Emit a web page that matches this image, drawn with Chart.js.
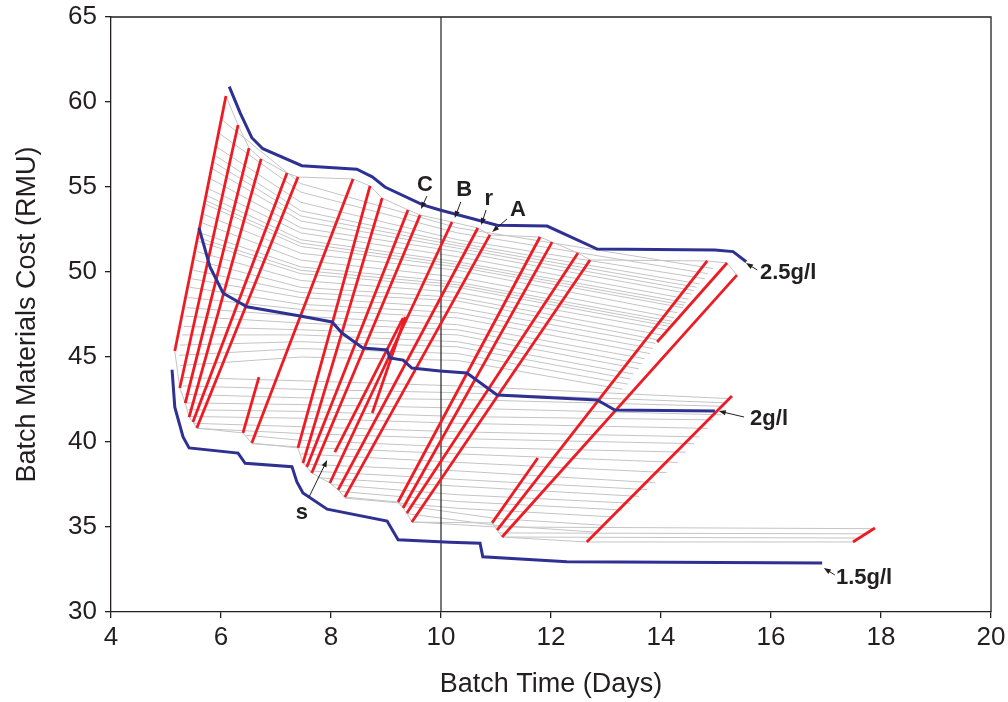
<!DOCTYPE html>
<html>
<head>
<meta charset="utf-8">
<script src="https://cdn.jsdelivr.net/npm/chart.js@4.4.1/dist/chart.umd.min.js"></script>
<style>
  body { margin: 0; background: #fff; }
</style>
</head>
<body>
<canvas id="chart" width="1008" height="702"></canvas>
<script>
// tick labels
const xTicks = [4, 6, 8, 10, 12, 14, 16, 18, 20];
const yTicks = [30, 35, 40, 45, 50, 55, 60, 65];

// blue optimal curves (2.5 g/l, 2 g/l, 1.5 g/l)
const blue25X = [6.15, 6.35, 6.56, 6.76, 7.47, 8.47, 8.75, 8.98, 9.67, 9.98, 11.02, 11.93, 12.84, 14.98, 15.31, 15.55];
const blue25Y = [60.9, 59.35, 57.9, 57.25, 56.25, 56.05, 55.6, 55.0, 53.95, 53.65, 52.75, 52.7, 51.35, 51.3, 51.2, 50.6];
const blue20X = [5.6, 5.8, 6.04, 6.47, 7.44, 8.02, 8.2, 8.58, 9.02, 9.07, 9.31, 9.47, 9.98, 10.47, 11.02, 12.84, 13.16, 14.98];
const blue20Y = [52.6, 50.3, 48.75, 47.95, 47.41, 47.06, 46.41, 45.53, 45.41, 44.94, 44.82, 44.35, 44.18, 44.06, 42.76, 42.47, 41.88, 41.82];
const blue15X = [5.11, 5.16, 5.31, 5.42, 6.31, 6.44, 7.29, 7.38, 7.49, 7.93, 9.02, 9.22, 10.16, 10.71, 10.76, 12.29, 16.93];
const blue15Y = [44.25, 42.05, 40.3, 39.65, 39.35, 38.75, 38.55, 37.65, 37.0, 36.05, 35.35, 34.25, 34.1, 34.05, 33.25, 32.95, 32.88];

// red segments [x1, y1, x2, y2]
const redSegments = [
  [6.09, 60.35, 5.16, 45.35], [6.31, 58.65, 5.25, 43.18], [6.51, 57.29, 5.35, 42.29],
  [6.73, 56.65, 5.42, 41.47], [7.20, 55.82, 5.49, 41.18], [7.40, 55.59, 5.56, 40.82],
  [6.69, 43.82, 6.40, 40.53], [8.40, 55.47, 6.56, 39.94],
  [8.71, 55.06, 7.40, 39.65], [8.93, 54.35, 7.49, 38.76], [9.40, 53.65, 7.56, 38.53],
  [9.62, 53.35, 7.65, 38.18], [10.20, 52.94, 7.98, 37.59], [10.67, 52.59, 8.13, 37.18],
  [10.89, 52.18, 8.25, 36.76],
  [9.35, 47.35, 8.75, 41.71], [9.31, 47.29, 8.07, 39.41],
  [11.80, 52.06, 9.22, 36.47], [12.02, 51.76, 9.31, 36.12], [12.49, 51.12, 9.38, 35.82],
  [12.71, 50.71, 9.47, 35.29],
  [14.84, 50.65, 11.02, 34.82], [15.20, 50.53, 13.93, 45.88], [15.38, 49.82, 11.11, 34.41],
  [11.76, 39.06, 10.93, 35.24],
  [15.29, 42.71, 12.65, 34.12], [17.89, 34.94, 17.49, 34.12]
];

// gray connecting lines, flat x,y pairs
const grayLines = [
  [6.09, 60.35, 6.31, 58.65, 6.51, 57.29, 6.73, 56.65, 7.2, 55.82, 7.4, 55.59, 8.4, 55.47, 8.71, 55.06, 8.93, 54.35, 9.4, 53.65, 9.62, 53.35, 10.2, 52.94, 10.67, 52.59, 10.89, 52.18, 11.8, 52.06, 12.02, 51.76, 12.49, 51.12, 12.71, 50.71, 14.84, 50.65, 15.2, 50.53, 15.38, 49.82],
  [5.16, 45.35, 5.25, 43.18, 5.35, 42.29, 5.42, 41.47, 5.49, 41.18, 5.56, 40.82, 6.4, 40.53, 6.56, 39.94, 7.4, 39.65, 7.49, 38.76, 7.56, 38.53, 7.65, 38.18, 7.98, 37.59, 8.13, 37.18, 8.25, 36.76, 9.22, 36.47, 9.31, 36.12, 9.38, 35.82, 9.47, 35.29, 10.93, 35.24, 11.02, 34.82, 11.11, 34.41, 12.65, 34.12, 17.49, 34.12],
  [6.0, 59.0, 7.45, 55.2, 10.3, 52.6, 14.95, 50.2],
  [5.95, 58.2, 7.45, 54.7, 10.3, 52.3, 14.85, 49.9],
  [5.9, 57.4, 7.45, 54.1, 10.3, 51.9, 14.8, 49.6],
  [5.87, 56.9, 7.45, 53.6, 10.3, 51.7, 14.7, 49.3],
  [5.85, 56.5, 7.45, 53.3, 10.3, 51.55, 14.65, 49.1],
  [5.83, 56.1, 7.45, 53.0, 10.3, 51.4, 14.6, 48.9],
  [5.8, 55.5, 7.45, 52.6, 10.3, 51.2, 14.55, 48.7],
  [5.77, 54.9, 7.45, 52.3, 10.3, 50.9, 14.5, 48.4],
  [5.74, 54.5, 7.45, 51.9, 10.3, 50.6, 14.45, 48.2],
  [5.72, 54.2, 7.45, 51.7, 10.3, 50.45, 14.42, 48.05],
  [5.71, 54.0, 7.45, 51.5, 10.3, 50.3, 14.4, 47.9],
  [5.68, 53.4, 7.45, 51.1, 10.3, 50.1, 14.3, 47.6],
  [5.65, 52.9, 7.45, 50.7, 10.3, 49.7, 14.25, 47.3],
  [5.62, 52.3, 7.45, 50.3, 10.3, 49.4, 14.2, 47.1],
  [5.6, 52.0, 7.45, 50.1, 10.3, 49.25, 14.18, 46.95],
  [5.59, 51.8, 7.45, 49.9, 10.3, 49.1, 14.15, 46.8],
  [5.56, 51.2, 7.45, 49.5, 10.3, 48.8, 14.1, 46.6],
  [5.53, 50.7, 7.45, 49.1, 10.3, 48.5, 14.0, 46.3],
  [5.5, 50.1, 7.45, 48.8, 10.3, 48.3, 13.95, 46.0],
  [5.47, 49.6, 7.45, 48.5, 10.3, 47.9, 13.9, 45.8],
  [5.44, 49.1, 7.45, 48.1, 10.3, 47.6, 13.85, 45.5],
  [5.41, 48.5, 7.45, 47.8, 10.3, 47.3, 13.8, 45.2],
  [5.38, 47.9, 7.45, 47.4, 10.3, 46.9, 13.7, 44.9],
  [5.35, 47.4, 7.45, 47.0, 10.3, 46.6, 13.65, 44.6],
  [5.32, 46.8, 7.45, 46.6, 10.3, 46.3, 13.6, 44.3],
  [5.29, 46.3, 7.45, 46.3, 10.3, 45.9, 13.5, 44.0],
  [5.25, 45.7, 7.45, 45.9, 10.3, 45.6, 13.45, 43.7],
  [5.24, 45.1, 7.45, 45.5, 10.3, 45.2, 13.4, 43.4],
  [5.26, 44.5, 7.45, 45.0, 10.3, 44.8, 13.3, 43.1],
  [5.28, 43.8, 7.45, 43.6, 10.3, 43.3, 15.25, 42.55],
  [5.31, 43.3, 7.45, 43.1, 10.3, 42.9, 15.2, 42.3],
  [5.34, 42.8, 7.45, 42.6, 10.3, 42.5, 15.15, 42.1],
  [5.37, 42.3, 7.45, 42.2, 10.3, 42.0, 15.1, 41.6],
  [5.4, 41.9, 7.45, 41.8, 10.3, 41.5, 14.95, 41.3],
  [5.45, 41.5, 7.45, 41.4, 10.3, 41.1, 14.85, 40.8],
  [5.5, 41.1, 7.45, 40.9, 10.3, 40.6, 14.7, 40.3],
  [5.56, 40.8, 7.45, 40.5, 10.3, 40.2, 14.6, 39.9],
  [6.45, 40.4, 7.45, 40.1, 10.3, 39.7, 14.45, 39.4],
  [6.55, 39.9, 7.45, 39.7, 10.3, 39.3, 14.3, 38.8],
  [7.45, 39.3, 10.3, 38.8, 14.1, 38.2],
  [7.5, 38.7, 10.3, 38.3, 13.9, 37.6],
  [7.6, 38.3, 10.3, 37.8, 13.75, 37.2],
  [7.75, 37.9, 10.3, 37.4, 13.6, 36.8],
  [8.0, 37.5, 10.3, 36.9, 13.45, 36.4],
  [8.15, 37.1, 10.3, 36.5, 13.3, 36.0],
  [8.25, 36.7, 10.3, 36.1, 13.1, 35.6],
  [9.25, 36.3, 11.0, 35.5, 12.95, 35.1],
  [9.35, 35.8, 11.0, 35.1, 12.8, 34.7],
  [9.47, 35.3, 11.02, 35.0, 17.85, 34.9],
  [11.06, 34.65, 17.7, 34.6],
  [11.11, 34.41, 17.6, 34.35]
];

// marker line at 10 days
const markerX = 10;

// annotations
const labelText = ['C', 'B', 'r', 'A', 's', '2.5g/l', '2g/l', '1.5g/l'];
const labelX = [9.71, 10.42, 10.87, 11.4, 7.47, 15.8, 15.62, 17.18];
const labelY = [55.12, 54.82, 54.29, 53.65, 35.82, 49.94, 41.35, 32.0];
const arrowFromX = [9.745, 10.36, 10.82, 11.2, 7.6, 15.75, 15.51, 17.16];
const arrowFromY = [54.47, 54.12, 53.65, 53.12, 36.76, 50.12, 41.47, 32.18];
const arrowToX = [9.636, 10.25, 10.73, 10.93, 7.93, 15.545, 15.05, 16.96];
const arrowToY = [53.71, 53.18, 52.76, 52.35, 38.94, 50.53, 41.82, 32.59];

const INK = '#231f20';
const RED = '#ed1c24';
const BLUE = '#2e3192';
const GRAY = '#c4c4c4';
const FONT = '"Liberation Sans", Arial, sans-serif';

function pairs(flat) {
  const pts = [];
  for (let i = 0; i < flat.length; i += 2) pts.push({ x: flat[i], y: flat[i + 1] });
  return pts;
}
function line(pts, color, width) {
  return { data: pts, borderColor: color, borderWidth: width, pointRadius: 0, showLine: true, fill: false, tension: 0 };
}

const datasets = [];
[[blue25X, blue25Y], [blue20X, blue20Y], [blue15X, blue15Y]].forEach(([xs, ys]) => {
  datasets.push(line(xs.map((x, i) => ({ x: x, y: ys[i] })), BLUE, 3));
});
redSegments.forEach(s => datasets.push(line(pairs(s), RED, 2.8)));
datasets.push(line([{ x: markerX, y: 30 }, { x: markerX, y: 65 }], INK, 1.2));
grayLines.forEach(g => datasets.push(line(pairs(g), GRAY, 1)));

const extras = {
  id: 'extras',
  afterDatasetsDraw(chart) {
    const { ctx, chartArea: a, scales: { x, y } } = chart;
    ctx.save();
    ctx.strokeStyle = INK;
    ctx.lineWidth = 1.3;
    ctx.beginPath();
    ctx.moveTo(a.left, a.top);
    ctx.lineTo(a.right, a.top);
    ctx.lineTo(a.right, a.bottom);
    ctx.stroke();

    ctx.fillStyle = INK;
    ctx.lineWidth = 1;
    labelText.forEach((t, i) => {
      const x0 = x.getPixelForValue(arrowFromX[i]), y0 = y.getPixelForValue(arrowFromY[i]);
      const x1 = x.getPixelForValue(arrowToX[i]), y1 = y.getPixelForValue(arrowToY[i]);
      const ang = Math.atan2(y1 - y0, x1 - x0);
      ctx.beginPath();
      ctx.moveTo(x0, y0);
      ctx.lineTo(x1 - 4 * Math.cos(ang), y1 - 4 * Math.sin(ang));
      ctx.stroke();
      ctx.beginPath();
      ctx.moveTo(x1, y1);
      ctx.lineTo(x1 - 7 * Math.cos(ang) + 2.6 * Math.sin(ang), y1 - 7 * Math.sin(ang) - 2.6 * Math.cos(ang));
      ctx.lineTo(x1 - 7 * Math.cos(ang) - 2.6 * Math.sin(ang), y1 - 7 * Math.sin(ang) + 2.6 * Math.cos(ang));
      ctx.closePath();
      ctx.fill();

      ctx.font = 'bold 22px ' + FONT;
      ctx.textAlign = t.indexOf('g/l') >= 0 ? 'left' : 'center';
      ctx.textBaseline = 'middle';
      ctx.fillText(t, x.getPixelForValue(labelX[i]), y.getPixelForValue(labelY[i]));
    });
    ctx.restore();
  }
};

new Chart(document.getElementById('chart'), {
  type: 'scatter',
  data: { datasets: datasets },
  options: {
    responsive: false,
    animation: false,
    devicePixelRatio: 1,
    layout: { padding: { left: 0, top: 17, right: 17, bottom: 0 } },
    plugins: { legend: { display: false }, tooltip: { enabled: false } },
    scales: {
      x: {
        type: 'linear', min: 4, max: 20,
        afterBuildTicks: s => { s.ticks = xTicks.map(v => ({ value: v })); },
        afterFit: s => { s.height = 90; s.paddingLeft = 0; s.paddingRight = 0; },
        grid: { drawOnChartArea: false, drawTicks: true, tickLength: 6, color: INK, lineWidth: 1.3 },
        border: { display: true, color: INK, width: 1.3 },
        ticks: { color: INK, font: { family: FONT, size: 26 }, padding: 4, maxRotation: 0 },
        title: { display: true, text: 'Batch Time (Days)', color: INK, font: { family: FONT, size: 27 }, padding: { top: 0, bottom: 1 } }
      },
      y: {
        type: 'linear', min: 30, max: 65,
        afterBuildTicks: s => { s.ticks = yTicks.map(v => ({ value: v })); },
        afterFit: s => { s.width = 111; s.paddingTop = 0; s.paddingBottom = 0; },
        grid: { drawOnChartArea: false, drawTicks: true, tickLength: 6, color: INK, lineWidth: 1.3 },
        border: { display: true, color: INK, width: 1.3 },
        ticks: { color: INK, font: { family: FONT, size: 26, lineHeight: 1 }, padding: 8 },
        title: { display: true, text: 'Batch Materials Cost (RMU)', color: INK, font: { family: FONT, size: 27 }, padding: { top: 11, bottom: 0 } }
      }
    }
  },
  plugins: [extras]
});
</script>
</body>
</html>
